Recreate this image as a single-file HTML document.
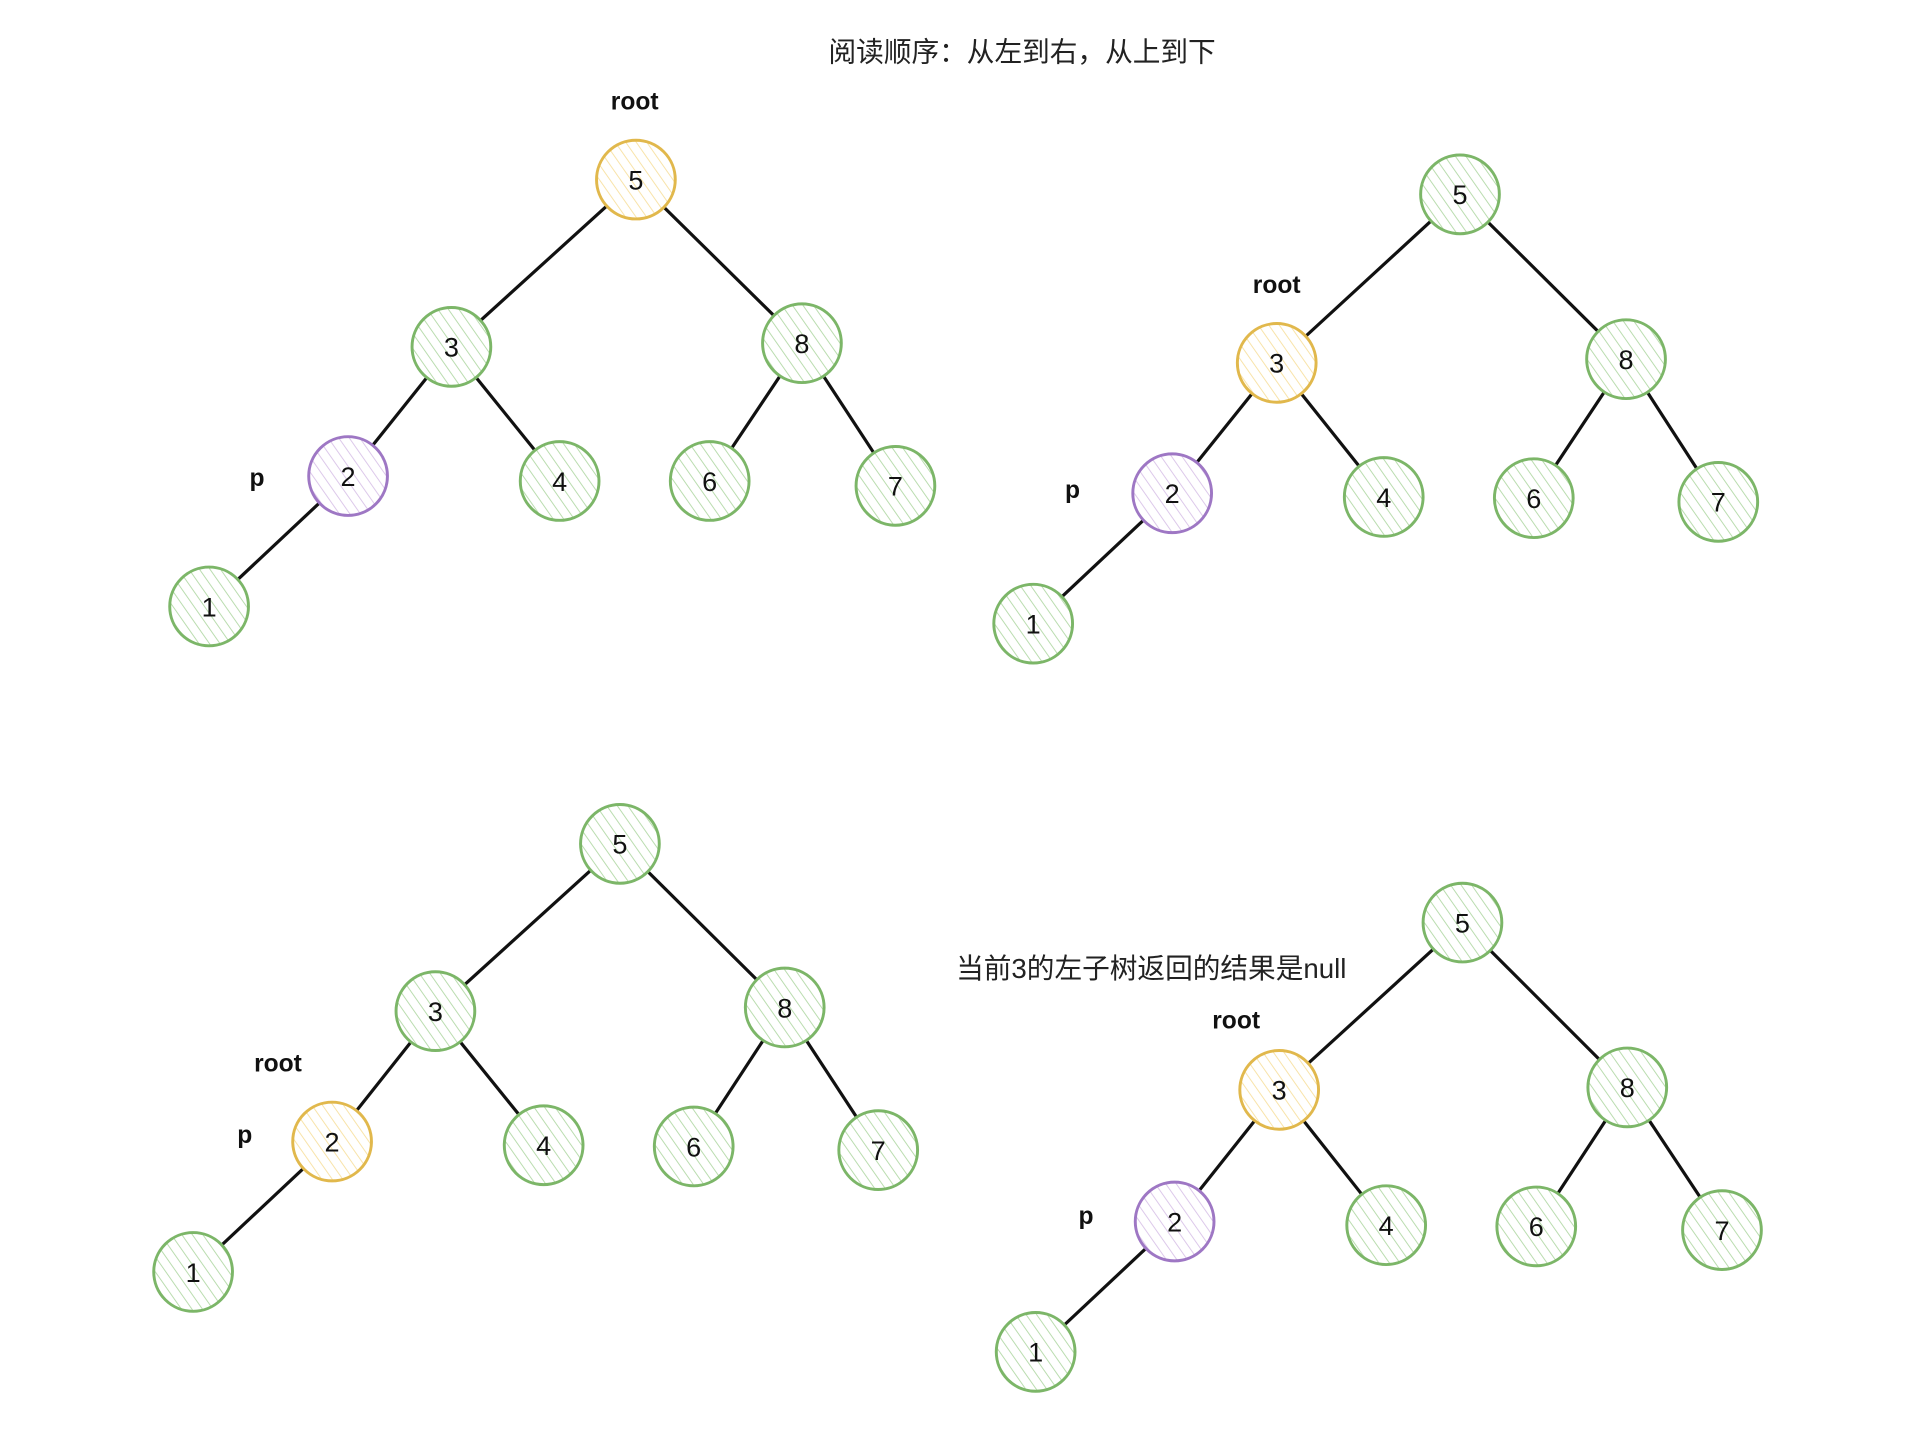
<!DOCTYPE html>
<html><head><meta charset="utf-8"><style>
html,body{margin:0;padding:0;background:#fff}svg{display:block}
circle{stroke-width:2.4}
.g{fill:url(#hg);stroke:#7cb668}.y{fill:url(#hy);stroke:#e1b84c}.p{fill:url(#hp);stroke:#9e77c4}
line{stroke:#111;stroke-width:2.6}
.n{font-family:"Liberation Sans",sans-serif;font-size:22px;text-anchor:middle;fill:#111}
.l{font-family:"Liberation Sans",sans-serif;font-size:20px;font-weight:bold;text-anchor:middle;fill:#111}
.c{font-family:"Liberation Sans","Noto Sans CJK SC",sans-serif;font-size:22.5px;text-anchor:middle;fill:#222}
</style></head>
<body>
<svg width="1928" height="1430" viewBox="0 0 1567.5 1162.5" preserveAspectRatio="none" xmlns="http://www.w3.org/2000/svg">
<defs>
<pattern id="hg" width="7" height="7" patternUnits="userSpaceOnUse" patternTransform="rotate(-35)"><rect width="7" height="7" fill="#fff"/><line x1="0" y1="0" x2="0" y2="7" style="stroke:#b9dcae;stroke-width:1.6"/></pattern>
<pattern id="hy" width="7" height="7" patternUnits="userSpaceOnUse" patternTransform="rotate(-35)"><rect width="7" height="7" fill="#fff"/><line x1="0" y1="0" x2="0" y2="7" style="stroke:#f8e3a8;stroke-width:1.6"/></pattern>
<pattern id="hp" width="7" height="7" patternUnits="userSpaceOnUse" patternTransform="rotate(-35)"><rect width="7" height="7" fill="#fff"/><line x1="0" y1="0" x2="0" y2="7" style="stroke:#dcc8ea;stroke-width:1.6"/></pattern>
</defs>
<text class="c" x="831" y="50">阅读顺序：从左到右，从上到下</text>
<text class="c" x="936" y="795">当前3的左子树返回的结果是null</text>

<!-- Tree 1 -->
<line x1="517" y1="146" x2="367" y2="282"/><line x1="517" y1="146" x2="652" y2="279"/>
<line x1="367" y1="282" x2="283" y2="387"/><line x1="367" y1="282" x2="455" y2="391"/>
<line x1="652" y1="279" x2="577" y2="391"/><line x1="652" y1="279" x2="728" y2="395"/>
<line x1="283" y1="387" x2="170" y2="493"/>
<circle class="y" cx="517" cy="146" r="32"/><text class="n" x="517" y="154">5</text>
<circle class="g" cx="367" cy="282" r="32"/><text class="n" x="367" y="290">3</text>
<circle class="g" cx="652" cy="279" r="32"/><text class="n" x="652" y="287">8</text>
<circle class="p" cx="283" cy="387" r="32"/><text class="n" x="283" y="395">2</text>
<circle class="g" cx="455" cy="391" r="32"/><text class="n" x="455" y="399">4</text>
<circle class="g" cx="577" cy="391" r="32"/><text class="n" x="577" y="399">6</text>
<circle class="g" cx="728" cy="395" r="32"/><text class="n" x="728" y="403">7</text>
<circle class="g" cx="170" cy="493" r="32"/><text class="n" x="170" y="501">1</text>
<text class="l" x="516" y="89">root</text><text class="l" x="209" y="395">p</text>

<!-- Tree 2 -->
<line x1="1187" y1="158" x2="1038" y2="295"/><line x1="1187" y1="158" x2="1322" y2="292"/>
<line x1="1038" y1="295" x2="953" y2="401"/><line x1="1038" y1="295" x2="1125" y2="404"/>
<line x1="1322" y1="292" x2="1247" y2="405"/><line x1="1322" y1="292" x2="1397" y2="408"/>
<line x1="953" y1="401" x2="840" y2="507"/>
<circle class="g" cx="1187" cy="158" r="32"/><text class="n" x="1187" y="166">5</text>
<circle class="y" cx="1038" cy="295" r="32"/><text class="n" x="1038" y="303">3</text>
<circle class="g" cx="1322" cy="292" r="32"/><text class="n" x="1322" y="300">8</text>
<circle class="p" cx="953" cy="401" r="32"/><text class="n" x="953" y="409">2</text>
<circle class="g" cx="1125" cy="404" r="32"/><text class="n" x="1125" y="412">4</text>
<circle class="g" cx="1247" cy="405" r="32"/><text class="n" x="1247" y="413">6</text>
<circle class="g" cx="1397" cy="408" r="32"/><text class="n" x="1397" y="416">7</text>
<circle class="g" cx="840" cy="507" r="32"/><text class="n" x="840" y="515">1</text>
<text class="l" x="1038" y="238">root</text><text class="l" x="872" y="405">p</text>

<!-- Tree 3 -->
<line x1="504" y1="686" x2="354" y2="822"/><line x1="504" y1="686" x2="638" y2="819"/>
<line x1="354" y1="822" x2="270" y2="928"/><line x1="354" y1="822" x2="442" y2="931"/>
<line x1="638" y1="819" x2="564" y2="932"/><line x1="638" y1="819" x2="714" y2="935"/>
<line x1="270" y1="928" x2="157" y2="1034"/>
<circle class="g" cx="504" cy="686" r="32"/><text class="n" x="504" y="694">5</text>
<circle class="g" cx="354" cy="822" r="32"/><text class="n" x="354" y="830">3</text>
<circle class="g" cx="638" cy="819" r="32"/><text class="n" x="638" y="827">8</text>
<circle class="y" cx="270" cy="928" r="32"/><text class="n" x="270" y="936">2</text>
<circle class="g" cx="442" cy="931" r="32"/><text class="n" x="442" y="939">4</text>
<circle class="g" cx="564" cy="932" r="32"/><text class="n" x="564" y="940">6</text>
<circle class="g" cx="714" cy="935" r="32"/><text class="n" x="714" y="943">7</text>
<circle class="g" cx="157" cy="1034" r="32"/><text class="n" x="157" y="1042">1</text>
<text class="l" x="226" y="871">root</text><text class="l" x="199" y="929">p</text>

<!-- Tree 4 -->
<line x1="1189" y1="750" x2="1040" y2="886"/><line x1="1189" y1="750" x2="1323" y2="884"/>
<line x1="1040" y1="886" x2="955" y2="993"/><line x1="1040" y1="886" x2="1127" y2="996"/>
<line x1="1323" y1="884" x2="1249" y2="997"/><line x1="1323" y1="884" x2="1400" y2="1000"/>
<line x1="955" y1="993" x2="842" y2="1099"/>
<circle class="g" cx="1189" cy="750" r="32"/><text class="n" x="1189" y="758">5</text>
<circle class="y" cx="1040" cy="886" r="32"/><text class="n" x="1040" y="894">3</text>
<circle class="g" cx="1323" cy="884" r="32"/><text class="n" x="1323" y="892">8</text>
<circle class="p" cx="955" cy="993" r="32"/><text class="n" x="955" y="1001">2</text>
<circle class="g" cx="1127" cy="996" r="32"/><text class="n" x="1127" y="1004">4</text>
<circle class="g" cx="1249" cy="997" r="32"/><text class="n" x="1249" y="1005">6</text>
<circle class="g" cx="1400" cy="1000" r="32"/><text class="n" x="1400" y="1008">7</text>
<circle class="g" cx="842" cy="1099" r="32"/><text class="n" x="842" y="1107">1</text>
<text class="l" x="1005" y="836">root</text><text class="l" x="883" y="995">p</text>
</svg>
</body></html>
